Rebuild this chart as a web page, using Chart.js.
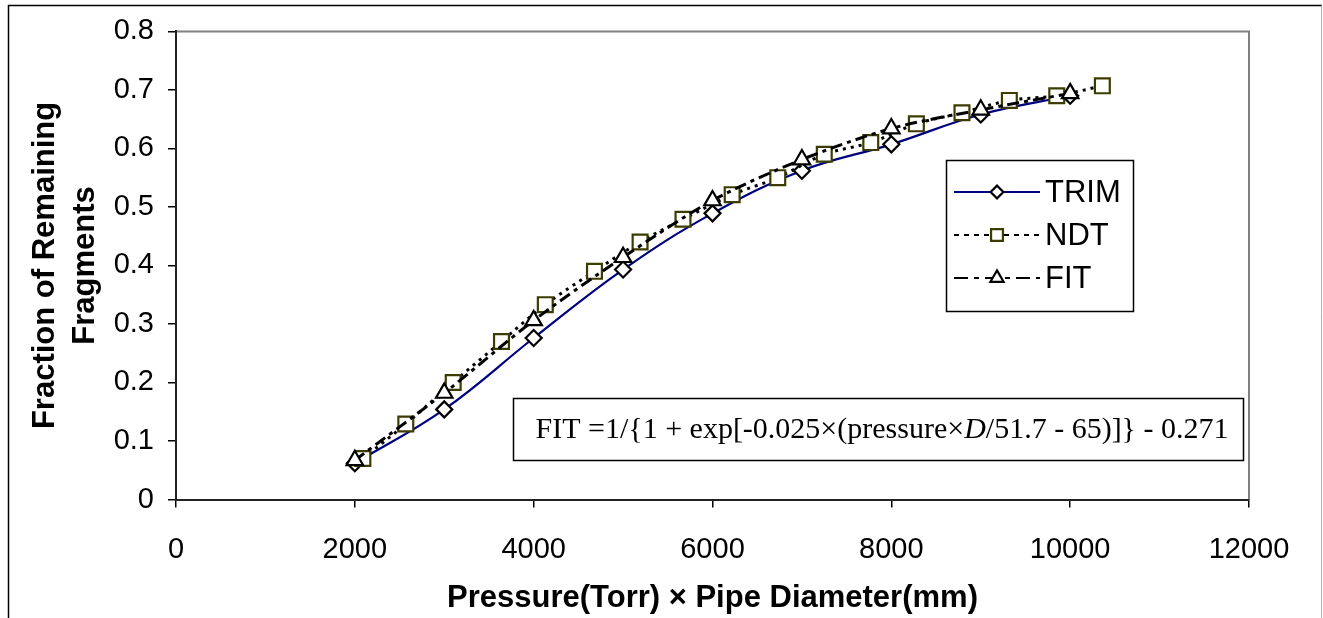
<!DOCTYPE html>
<html>
<head>
<meta charset="utf-8">
<script src="https://cdn.jsdelivr.net/npm/chart.js@4.4.0/dist/chart.umd.min.js"></script>
<style>
html,body{margin:0;padding:0;background:#fff;}
#wrap{width:1323px;height:618px;position:relative;}
</style>
</head>
<body>
<div id="wrap"><canvas id="c" width="1323" height="618"></canvas></div>
<script>
// ---- data ----
const trimX = [2000, 3000, 4000, 5000, 6000, 7000, 8000, 9000, 10000];
const trimY = [0.062, 0.154, 0.276, 0.393, 0.489, 0.562, 0.607, 0.658, 0.69];

const ndtX = [2090, 2570, 3100, 3640, 4130, 4680, 5190, 5670, 6220, 6730, 7250, 7770, 8280, 8790, 9320, 9850, 10360];
const ndtY = [0.07, 0.129, 0.2, 0.27, 0.333, 0.39, 0.44, 0.479, 0.521, 0.55, 0.59, 0.61, 0.642, 0.661, 0.682, 0.69, 0.707];

const fitX = [2000, 3000, 4000, 5000, 6000, 7000, 8000, 9000, 10000];
const fitY = [0.067, 0.182, 0.306, 0.414, 0.511, 0.581, 0.634, 0.666, 0.694];

const xTicks = [0, 2000, 4000, 6000, 8000, 10000, 12000];
const yTicks = [0, 0.1, 0.2, 0.3, 0.4, 0.5, 0.6, 0.7, 0.8];

const seriesNames = ['TRIM', 'NDT', 'FIT'];
const xTitle = 'Pressure(Torr) \u00D7 Pipe Diameter(mm)';
const yTitle = ['Fraction of Remaining', 'Fragments'];
const fitFormula = ['FIT =1/{1 + exp[-0.025\u00D7(pressure\u00D7', 'D', '/51.7 - 65)]} - 0.271'];

const toPts = (xs, ys) => xs.map((x, i) => ({x: x, y: ys[i]}));

const SANS = '"Liberation Sans", Arial, sans-serif';
const SERIF = '"Liberation Serif", "Times New Roman", serif';

const PLOT = {left: 176, right: 1249, top: 31, bottom: 499.5};

function drawMarker(ctx, style, r, x, y) {
  if (style === 'rectRot') {
    ctx.moveTo(x - r, y); ctx.lineTo(x, y - r); ctx.lineTo(x + r, y); ctx.lineTo(x, y + r); ctx.closePath();
  } else if (style === 'rect') {
    const s = Math.SQRT1_2 * r;
    ctx.rect(x - s, y - s, 2 * s, 2 * s);
  } else {
    ctx.moveTo(x, y - r);
    ctx.lineTo(x + 0.866 * r, y + 0.5 * r);
    ctx.lineTo(x - 0.866 * r, y + 0.5 * r);
    ctx.closePath();
  }
}

const legendDash = [[], [5, 5], [14, 6, 5, 6]];

const decor = {
  id: 'decor',
  beforeDraw(chart) {
    const ctx = chart.ctx;
    ctx.save();
    ctx.fillStyle = '#fff';
    ctx.fillRect(0, 0, chart.width, chart.height);
    // outer frame
    ctx.strokeStyle = '#000';
    ctx.lineWidth = 1.5;
    ctx.beginPath();
    ctx.moveTo(8.5, 620); ctx.lineTo(8.5, 5.5); ctx.lineTo(1322, 5.5);
    ctx.stroke();
    ctx.strokeStyle = '#b0b0b0';
    ctx.lineWidth = 1;
    ctx.beginPath();
    ctx.moveTo(1321.5, 5.5); ctx.lineTo(1321.5, 620);
    ctx.stroke();
    // plot area border (top/right grey)
    const a = chart.chartArea;
    ctx.strokeStyle = '#808080';
    ctx.lineWidth = 2;
    ctx.beginPath();
    ctx.moveTo(a.left, a.top); ctx.lineTo(a.right, a.top); ctx.lineTo(a.right, a.bottom);
    ctx.stroke();
    ctx.restore();
  },
  afterDraw(chart) {
    const ctx = chart.ctx;
    const ds = chart.data.datasets;
    ctx.save();
    // formula box
    const bx = 513, by = 398, bw = 730, bh = 62;
    ctx.fillStyle = '#fff';
    ctx.fillRect(bx, by, bw, bh);
    ctx.strokeStyle = '#000';
    ctx.lineWidth = 1.5;
    ctx.strokeRect(bx + 0.5, by + 0.5, bw, bh);
    ctx.fillStyle = '#000';
    ctx.textBaseline = 'middle';
    ctx.textAlign = 'left';
    const fN = '30px ' + SERIF, fI = 'italic 30px ' + SERIF;
    ctx.font = fN; const w0 = ctx.measureText(fitFormula[0]).width;
    ctx.font = fI; const w1 = ctx.measureText(fitFormula[1]).width;
    ctx.font = fN; const w2 = ctx.measureText(fitFormula[2]).width;
    let tx = bx + (bw - (w0 + w1 + w2)) / 2 + 4;
    const ty = by + bh / 2 + 1;
    ctx.font = fN; ctx.fillText(fitFormula[0], tx, ty); tx += w0;
    ctx.font = fI; ctx.fillText(fitFormula[1], tx, ty); tx += w1;
    ctx.font = fN; ctx.fillText(fitFormula[2], tx, ty);

    // legend
    const lx = 946, ly = 160, lw = 187, lh = 151;
    ctx.fillStyle = '#fff';
    ctx.fillRect(lx, ly, lw, lh);
    ctx.strokeStyle = '#000';
    ctx.lineWidth = 1.5;
    ctx.strokeRect(lx + 0.5, ly + 0.5, lw, lh);
    const rows = [192, 235, 278];
    ds.forEach((d, i) => {
      const y = rows[i];
      ctx.save();
      ctx.strokeStyle = d.borderColor;
      ctx.lineWidth = 2;
      ctx.setLineDash(legendDash[i]);
      ctx.beginPath();
      ctx.moveTo(954, y); ctx.lineTo(1040, y);
      ctx.stroke();
      ctx.restore();
      ctx.save();
      ctx.fillStyle = d.pointBackgroundColor;
      ctx.strokeStyle = d.pointBorderColor;
      ctx.lineWidth = d.pointBorderWidth;
      ctx.beginPath();
      drawMarker(ctx, d.pointStyle, d.pointRadius * 0.8, 997, y);
      ctx.fill(); ctx.stroke();
      ctx.restore();
      ctx.fillStyle = '#000';
      ctx.font = '31px ' + SANS;
      ctx.textAlign = 'left';
      ctx.textBaseline = 'middle';
      ctx.fillText(d.label, 1045, y + 1);
    });
    ctx.restore();
  }
};

new Chart(document.getElementById('c'), {
  type: 'scatter',
  data: {
    datasets: [
      {
        label: seriesNames[0], data: toPts(trimX, trimY), showLine: true,
        borderColor: '#000080', borderWidth: 2.2, tension: 0.4, order: 3,
        pointStyle: 'rectRot', pointRadius: 8, pointBorderWidth: 2.2,
        pointBorderColor: '#000', pointBackgroundColor: '#fff'
      },
      {
        label: seriesNames[1], data: toPts(ndtX, ndtY), showLine: true,
        borderColor: '#000', borderWidth: 3, borderDash: [3, 5], tension: 0.3, order: 2,
        pointStyle: 'rect', pointRadius: 10.5, pointBorderWidth: 2.2,
        pointBorderColor: '#3c3c00', pointBackgroundColor: '#fff'
      },
      {
        label: seriesNames[2], data: toPts(fitX, fitY), showLine: true,
        borderColor: '#000', borderWidth: 3, borderDash: [12, 5, 4, 5], tension: 0.3, order: 1,
        pointStyle: 'triangle', pointRadius: 9.5, pointBorderWidth: 2.2,
        pointBorderColor: '#000', pointBackgroundColor: '#fff'
      }
    ]
  },
  options: {
    responsive: false,
    animation: false,
    events: [],
    layout: {padding: {left: 0, top: PLOT.top, right: 1323 - PLOT.right, bottom: 0}},
    plugins: {legend: {display: false}, tooltip: {enabled: false}},
    scales: {
      x: {
        type: 'linear', min: 0, max: 12000,
        afterBuildTicks: s => { s.ticks = xTicks.map(v => ({value: v})); },
        afterFit: s => { s.height = 618 - PLOT.bottom; },
        grid: {display: true, drawOnChartArea: false, drawTicks: true, tickLength: 8, color: '#000', lineWidth: 1.5},
        border: {display: true, color: '#222', width: 2},
        ticks: {padding: 25, color: '#000', font: {family: SANS, size: 29}, maxRotation: 0, callback: v => String(v)},
        title: {display: true, text: xTitle, color: '#000', font: {family: SANS, size: 31, weight: 'bold'}, padding: {top: 0, bottom: 1}}
      },
      y: {
        type: 'linear', min: 0, max: 0.8,
        afterBuildTicks: s => { s.ticks = yTicks.map(v => ({value: v})); },
        afterFit: s => { s.width = PLOT.left; },
        grid: {display: true, drawOnChartArea: false, drawTicks: true, tickLength: 8, color: '#000', lineWidth: 1.5},
        border: {display: true, color: '#222', width: 2},
        ticks: {padding: 14, color: '#000', font: {family: SANS, size: 29}, callback: v => (Math.round(v * 10) / 10).toString()},
        title: {display: true, text: yTitle, color: '#000', font: {family: SANS, size: 31, weight: 'bold', lineHeight: 1.3}, padding: {top: 25, bottom: 0}}
      }
    }
  },
  plugins: [decor]
});
</script>
</body>
</html>
